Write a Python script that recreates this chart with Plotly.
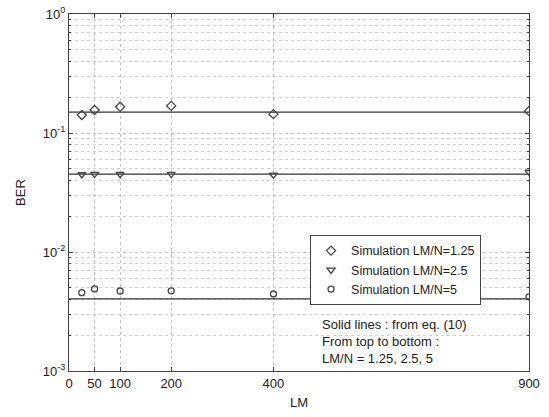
import plotly.graph_objects as go

lm = [25, 50, 100, 200, 400, 900]
sim_125 = [0.1416, 0.156, 0.166, 0.169, 0.144, 0.153]
sim_25 = [0.0448, 0.0452, 0.0450, 0.0452, 0.0445, 0.0470]
sim_5 = [0.00455, 0.00489, 0.00470, 0.00472, 0.00444, 0.00420]

theory_x = [0, 900]
theory_125 = [0.150, 0.150]
theory_25 = [0.0452, 0.0452]
theory_5 = [0.00403, 0.00403]

x_ticks = [0, 50, 100, 200, 400, 900]
y_ticks = [1, 0.1, 0.01, 0.001]
y_ticktext = ["10<sup>0</sup>", "10<sup>-1</sup>", "10<sup>-2</sup>", "10<sup>-3</sup>"]

font = "Liberation Sans, Arial, sans-serif"
mcol = "#444444"

fig = go.Figure()
for yv in (theory_125, theory_25, theory_5):
    fig.add_trace(go.Scatter(x=theory_x, y=yv, mode="lines",
                             line=dict(color="#333333", width=1.2),
                             showlegend=False, hoverinfo="skip"))

fig.add_trace(go.Scatter(x=lm, y=sim_125, mode="markers", name="Simulation LM/N=1.25",
                         marker=dict(symbol="diamond-open", size=7, color=mcol, line=dict(width=1.3))))
fig.add_trace(go.Scatter(x=lm, y=sim_25, mode="markers", name="Simulation LM/N=2.5",
                         marker=dict(symbol="triangle-down-open", size=7, color=mcol, line=dict(width=1.3))))
fig.add_trace(go.Scatter(x=lm, y=sim_5, mode="markers", name="Simulation LM/N=5",
                         marker=dict(symbol="circle-open", size=6, color=mcol, line=dict(width=1.3))))

fig.add_annotation(x=0.546, y=0.156, xref="paper", yref="paper", xanchor="left", yanchor="top",
                   align="left", showarrow=False,
                   text="Solid lines : from eq. (10)<br>From top to bottom :<br>LM/N = 1.25, 2.5, 5",
                   font=dict(family=font, size=13, color="#222222"))

fig.update_layout(
    width=549, height=417,
    margin=dict(l=69, r=20, t=14, b=46),
    paper_bgcolor="white", plot_bgcolor="white",
    font=dict(family=font, size=13, color="#222222"),
    legend=dict(x=0.524, y=0.381, xanchor="left", yanchor="top",
                bgcolor="white", bordercolor="#444444", borderwidth=1,
                font=dict(family=font, size=12.5), tracegroupgap=0, itemsizing="trace"),
    xaxis=dict(range=[0, 900], tickvals=x_ticks, ticks="inside", ticklen=4,
               showline=True, linecolor="#444444", linewidth=1, mirror="ticks",
               showgrid=True, gridcolor="#c4c4c4", griddash="dot", gridwidth=1,
               zeroline=False, automargin=False, ticklabeloverflow="allow",
               title=dict(text="LM", font=dict(size=13), standoff=8)),
    yaxis=dict(type="log", range=[-3, 0], tickvals=y_ticks, ticktext=y_ticktext,
               ticks="inside", ticklen=4,
               showline=True, linecolor="#444444", linewidth=1, mirror="ticks",
               showgrid=True, gridcolor="#c4c4c4", griddash="dot", gridwidth=1,
               minor=dict(showgrid=True, gridcolor="#d2d2d2", griddash="dot",
                          ticks="inside", ticklen=2, dtick="D1"),
               zeroline=False, automargin=False, ticklabeloverflow="allow",
               title=dict(text="BER", font=dict(size=13), standoff=14)),
)

# remove the default 8px page margin so the figure fills the 549x417 window exactly
fig.write_html("out.html", config={"displayModeBar": False},
               post_script="document.body.style.margin='0px';")
